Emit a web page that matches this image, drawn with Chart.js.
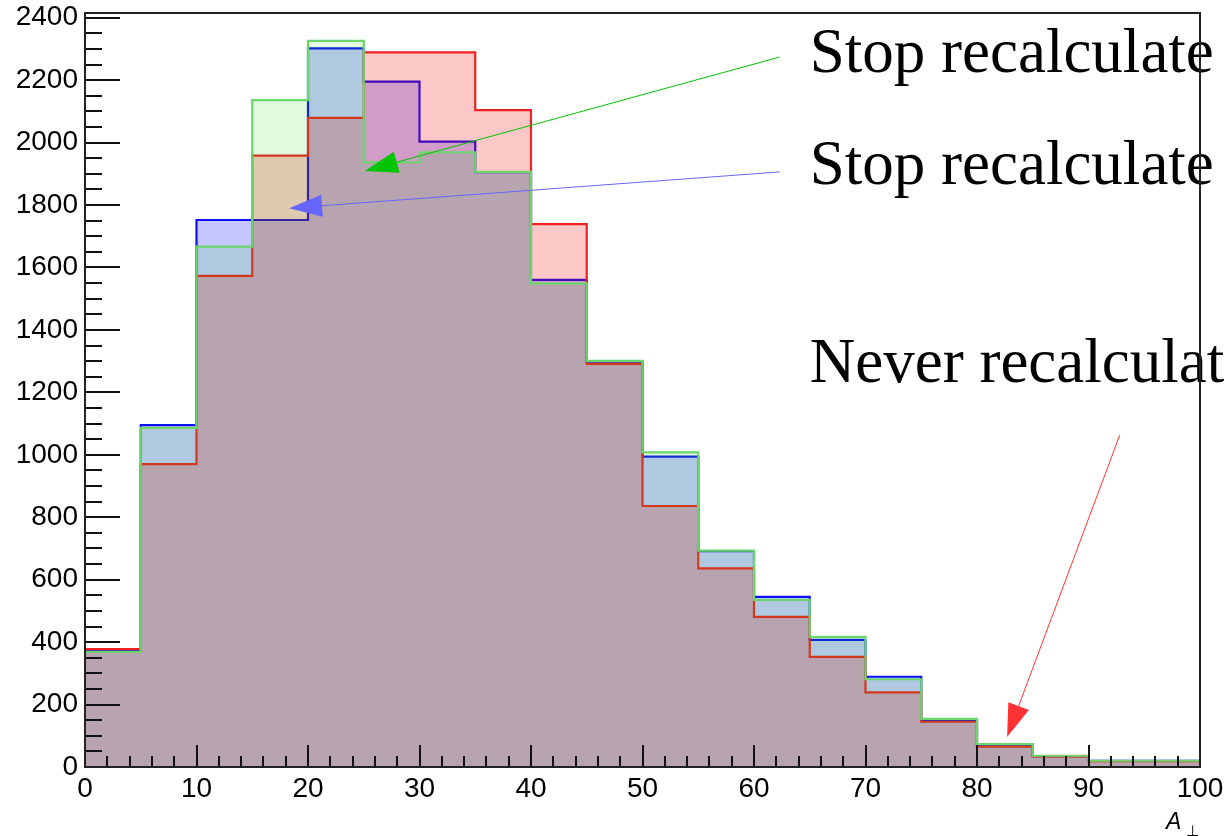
<!DOCTYPE html>
<html>
<head>
<meta charset="utf-8">
<script src="https://cdn.jsdelivr.net/npm/chart.js@4.4.1/dist/chart.umd.min.js"></script>
<style>
  html, body { margin: 0; padding: 0; background: #fff; }
  #wrap { width: 1226px; height: 836px; }
</style>
</head>
<body>
<div id="wrap"><canvas id="histChart" width="1226" height="836"></canvas></div>
<script>
// bin left edges (width 5) and the three overlaid histograms
const binEdges = [0, 5, 10, 15, 20, 25, 30, 35, 40, 45, 50, 55, 60, 65, 70, 75, 80, 85, 90, 95];
const binWidth = 5;
const blueCounts = [372, 1095, 1752, 1752, 2302, 2195, 2003, 1905, 1560, 1298, 994, 691, 545, 407, 289, 151, 70, 35, 20, 20];
const redCounts = [378, 970, 1573, 1958, 2079, 2289, 2289, 2104, 1739, 1291, 836, 636, 481, 353, 239, 145, 65, 34, 19, 19];
const greenCounts = [369, 1086, 1667, 2136, 2326, 1937, 1969, 1906, 1549, 1301, 1008, 693, 535, 417, 281, 154, 73, 36, 20, 20];

const xTicks = [0, 10, 20, 30, 40, 50, 60, 70, 80, 90, 100];
const yTicks = [0, 200, 400, 600, 800, 1000, 1200, 1400, 1600, 1800, 2000, 2200, 2400];

// arrows and labels, in axis units
const arrowNotes = [
  { from: [62.3, 2274], to: [25.1, 1909], color: '#00c400' },
  { from: [62.3, 1906], to: [18.3, 1790], color: '#6666ff' },
  { from: [92.8, 1063], to: [82.7, 96], color: '#ff3333' }
];
const textNotes = [
  { text: 'Stop recalculate', at: [65.0, 2226] },
  { text: 'Stop recalculate', at: [65.0, 1867] },
  { text: 'Never recalculate', at: [65.0, 1233] }
];

// step outline: one point per left edge plus the closing right edge
function histPoints(counts) {
  const pts = binEdges.map((x, i) => ({ x: x, y: counts[i] }));
  pts.push({ x: binEdges[binEdges.length - 1] + binWidth, y: counts[counts.length - 1] });
  return pts;
}

function histDataset(counts, line, fill, order) {
  return {
    data: histPoints(counts),
    stepped: 'before',
    borderColor: line,
    backgroundColor: fill,
    borderWidth: 2.2,
    fill: 'origin',
    pointRadius: 0,
    order: order
  };
}

function drawArrow(ctx, x0, y0, x1, y1, color) {
  const ang = Math.atan2(y1 - y0, x1 - x0);
  const len = 33, half = 11;
  const bx = x1 - Math.cos(ang) * len, by = y1 - Math.sin(ang) * len;
  ctx.strokeStyle = color;
  ctx.lineWidth = 1;
  ctx.beginPath();
  ctx.moveTo(x0, y0);
  ctx.lineTo(bx, by);
  ctx.stroke();
  ctx.fillStyle = color;
  ctx.beginPath();
  ctx.moveTo(x1, y1);
  ctx.lineTo(bx + Math.sin(ang) * half, by - Math.cos(ang) * half);
  ctx.lineTo(bx - Math.sin(ang) * half, by + Math.cos(ang) * half);
  ctx.closePath();
  ctx.fill();
}

const rootStyle = {
  id: 'rootStyle',
  afterDatasetsDraw(chart) {
    const ctx = chart.ctx;
    const xs = chart.scales.x, ys = chart.scales.y;
    ctx.save();
    arrowNotes.forEach(a => {
      drawArrow(ctx,
        xs.getPixelForValue(a.from[0]), ys.getPixelForValue(a.from[1]),
        xs.getPixelForValue(a.to[0]), ys.getPixelForValue(a.to[1]), a.color);
    });
    ctx.fillStyle = '#000';
    ctx.font = '63px "Liberation Serif", "Times New Roman", serif';
    ctx.textAlign = 'left';
    ctx.textBaseline = 'alphabetic';
    textNotes.forEach(t => {
      ctx.fillText(t.text, xs.getPixelForValue(t.at[0]), ys.getPixelForValue(t.at[1]));
    });
    ctx.restore();
  },
  afterDraw(chart) {
    const ctx = chart.ctx;
    const area = chart.chartArea;
    const xs = chart.scales.x, ys = chart.scales.y;
    ctx.save();
    ctx.strokeStyle = '#111';
    ctx.lineWidth = 2;
    // tick marks pointing into the frame
    ctx.beginPath();
    for (let v = 0; v <= 2400; v += 50) {
      const y = Math.round(ys.getPixelForValue(v));
      const len = yTicks.includes(v) ? 35 : 17;
      ctx.moveTo(area.left, y);
      ctx.lineTo(area.left + len, y);
    }
    for (let v = 0; v <= 100; v += 2) {
      const x = Math.round(xs.getPixelForValue(v));
      const len = xTicks.includes(v) ? 22 : 11;
      ctx.moveTo(x, area.bottom);
      ctx.lineTo(x, area.bottom - len);
    }
    ctx.stroke();
    ctx.strokeStyle = '#222';
    ctx.strokeRect(area.left, area.top, area.right - area.left, area.bottom - area.top);
    // axis title A with perpendicular subscript
    ctx.fillStyle = '#000';
    ctx.textAlign = 'left';
    ctx.textBaseline = 'alphabetic';
    ctx.font = 'italic 23px "Liberation Sans", Arial, sans-serif';
    ctx.fillText('A', 1166, 829);
    ctx.font = '15px "DejaVu Sans", sans-serif';
    ctx.fillText('\u22A5', 1186, 836);
    ctx.restore();
  }
};

const tickFont = { family: '"Liberation Sans", Arial, sans-serif', size: 28 };
const plainNumber = v => String(v);

new Chart(document.getElementById('histChart'), {
  type: 'line',
  data: {
    datasets: [
      histDataset(blueCounts, '#1010f0', 'rgba(0, 0, 255, 0.22)', 3),
      histDataset(redCounts, '#ee2222', 'rgba(240, 0, 0, 0.22)', 2),
      histDataset(greenCounts, '#6cd66c', 'rgba(0, 220, 0, 0.12)', 1)
    ]
  },
  options: {
    responsive: false,
    animation: false,
    devicePixelRatio: 1,
    layout: { padding: { top: 13, right: 26, left: 0, bottom: 0 } },
    plugins: {
      legend: { display: false },
      tooltip: { enabled: false },
      title: { display: false }
    },
    scales: {
      x: {
        type: 'linear',
        min: 0,
        max: 100,
        grid: { display: false, drawTicks: false },
        border: { display: false },
        afterBuildTicks: s => { s.ticks = xTicks.map(v => ({ value: v })); },
        afterFit: s => { s.height = 69; s.paddingLeft = 0; s.paddingRight = 0; },
        ticks: { color: '#000', font: tickFont, padding: 5, autoSkip: false, maxRotation: 0, callback: plainNumber }
      },
      y: {
        type: 'linear',
        min: 0,
        max: 2415,
        grid: { display: false, drawTicks: false },
        border: { display: false },
        afterBuildTicks: s => { s.ticks = yTicks.map(v => ({ value: v })); },
        afterFit: s => { s.width = 85; s.paddingTop = 0; s.paddingBottom = 0; },
        ticks: { color: '#000', font: tickFont, padding: 7, autoSkip: false, callback: plainNumber }
      }
    }
  },
  plugins: [rootStyle]
});
</script>
</body>
</html>
